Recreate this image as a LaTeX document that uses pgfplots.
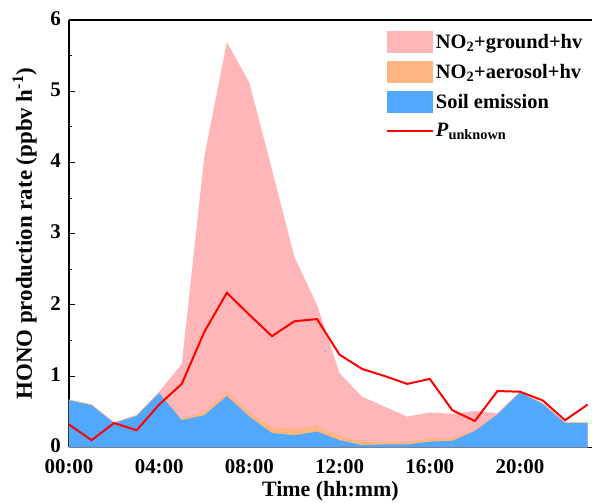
\documentclass[border=0pt]{standalone}
\usepackage{fontspec}
\setmainfont{Liberation Serif}
\usepackage{pgfplots}
\pgfplotsset{compat=1.18}
\usepackage{pgfplotstable}

\definecolor{groundpink}{RGB}{255,182,185}
\definecolor{aeroorange}{RGB}{255,181,128}
\definecolor{soilblue}{RGB}{82,168,255}
\definecolor{punkred}{RGB}{255,0,0}

% hourly HONO sources (ppbv/h)
\pgfplotstableread{
h  soil aer  ground punk
0  0.66 0.01 0.00 0.32
1  0.59 0.01 0.00 0.10
2  0.34 0.01 0.00 0.34
3  0.44 0.01 0.00 0.24
4  0.76 0.01 0.01 0.60
5  0.38 0.02 0.77 0.89
6  0.45 0.05 3.58 1.62
7  0.72 0.06 4.91 2.17
8  0.43 0.05 4.64 1.86
9  0.20 0.08 3.62 1.56
10 0.17 0.09 2.41 1.77
11 0.22 0.08 1.70 1.80
12 0.10 0.06 0.88 1.30
13 0.03 0.05 0.63 1.10
14 0.04 0.04 0.49 1.00
15 0.04 0.04 0.35 0.89
16 0.08 0.04 0.37 0.96
17 0.09 0.04 0.34 0.52
18 0.23 0.02 0.26 0.37
19 0.46 0.01 0.01 0.79
20 0.77 0.01 0.00 0.78
21 0.61 0.01 0.00 0.66
22 0.34 0.01 0.00 0.38
23 0.34 0.01 0.00 0.60
}\hono

\begin{document}
\begin{tikzpicture}
\begin{axis}[
    scale only axis,
    width=522.7bp, height=427.3bp,
    xmin=0, xmax=23.18,
    ymin=0, ymax=6,
    axis x line*=box, axis y line*=left,
    xtick pos=left, ytick pos=left,
    xtick={0,4,8,12,16,20},
    xticklabels={00:00,04:00,08:00,12:00,16:00,20:00},
    minor xtick={2,6,10,14,18,22},
    ytick={0,1,2,3,4,5,6},
    minor ytick={0.5,1.5,2.5,3.5,4.5,5.5},
    tick align=inside,
    major tick length=6bp, minor tick length=3.5bp,
    every tick/.style={black, line width=1bp},
    axis line style={line width=1.2bp},
    /pgf/number format/assume math mode=true,
    tick label style={font=\bfseries\fontsize{21}{25}\selectfont, inner sep=1bp},
    xticklabel style={yshift=-11bp},
    yticklabel style={xshift=-7bp, yshift=1.5bp},
    xlabel={Time (hh:mm)},
    ylabel={HONO production rate (ppbv h\textsuperscript{-1})},
    xlabel style={font=\bfseries\fontsize{22}{26}\selectfont,
        at={(axis description cs:0.5,0)}, anchor=base, yshift=-49.5bp},
    ylabel style={font=\bfseries\fontsize{23}{27}\selectfont,
        at={(axis description cs:0,0.5)}, anchor=base, yshift=37bp},
    no markers,
    legend style={at={(0.606,0.974)}, anchor=north west, draw=none, fill=none,
        inner sep=0pt, row sep=8bp, font=\bfseries\fontsize{20.5}{24}\selectfont,
        /tikz/every even column/.append style={column sep=2bp}},
    legend cell align=left,
]
\addplot[draw=none, fill=groundpink,
    legend image code/.code={\fill[groundpink] (0bp,-11bp) rectangle (46bp,11bp);}]
    table[x=h, y expr=\thisrow{soil}+\thisrow{aer}+\thisrow{ground}] {\hono} \closedcycle;
\addplot[draw=none, fill=aeroorange,
    legend image code/.code={\fill[aeroorange] (0bp,-11bp) rectangle (46bp,11bp);}]
    table[x=h, y expr=\thisrow{soil}+\thisrow{aer}] {\hono} \closedcycle;
\addplot[draw=none, fill=soilblue,
    legend image code/.code={\fill[soilblue] (0bp,-11bp) rectangle (46bp,11bp);}]
    table[x=h, y=soil] {\hono} \closedcycle;
\addplot[punkred, line width=2bp,
    legend image code/.code={\draw[punkred, line width=2bp] (0bp,0bp) -- (46bp,0bp);}]
    table[x=h, y=punk] {\hono};
\legend{NO\textsubscript{2}+ground+hv, NO\textsubscript{2}+aerosol+hv, Soil emission, \textit{P}\textsubscript{unknown}}
\coordinate (SW) at (rel axis cs:0,0);
\coordinate (NE) at (rel axis cs:1,1);
\end{axis}
\pgfresetboundingbox
\path[use as bounding box] ([xshift=-69bp,yshift=-55.7bp]SW) rectangle ([xshift=0.3bp,yshift=20bp]NE);
\end{tikzpicture}
\end{document}
